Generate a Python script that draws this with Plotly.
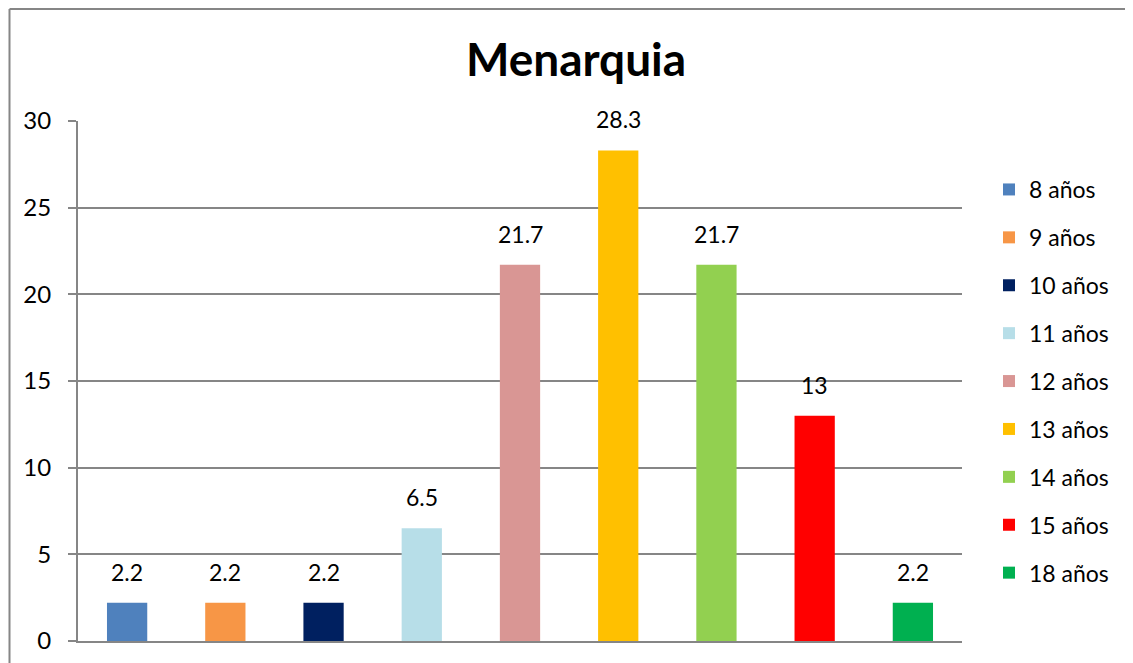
import plotly.graph_objects as go

categories = ["8 años", "9 años", "10 años", "11 años", "12 años", "13 años", "14 años", "15 años", "18 años"]
values = [2.2, 2.2, 2.2, 6.5, 21.7, 28.3, 21.7, 13, 2.2]
labels = ["2.2", "2.2", "2.2", "6.5", "21.7", "28.3", "21.7", "13", "2.2"]
colors = ["#4F81BD", "#F79646", "#002060", "#B7DEE8", "#D99694", "#FFC000", "#92D050", "#FF0000", "#00B050"]
y_ticks = [0, 5, 10, 15, 20, 25, 30]

FONT = "Lato, Carlito, Calibri, sans-serif"

# page body has an 8px margin; figure coordinates = screen coordinates - 8
OFF = 8
W, H = 1133 - OFF, 663 - OFF
PL, PR, PT, PB = 78 - OFF, 962 - OFF, 121 - OFF, 641 - OFF
L, R, T, B = PL, W - PR, PT, H - PB
pw, ph = PR - PL, PB - PT

def sx(px):
    return (px - OFF - L) / pw

def sy(py):
    return (PB - (py - OFF)) / ph

fig = go.Figure()
for cat, val, col in zip(categories, values, colors):
    fig.add_trace(go.Bar(
        x=[cat], y=[val], name=cat, marker=dict(color=col, line=dict(width=0)),
        width=0.41, legendgroup=cat, hoverinfo="x+y",
    ))

for cat, val, lab in zip(categories, values, labels):
    fig.add_annotation(x=cat, y=val, text=lab, showarrow=False, yanchor="bottom",
                       yshift=15, font=dict(size=23, color="black", family=FONT))

# chart frame (only top and left edges fall inside the visible window)
fig.add_shape(type="line", xref="paper", yref="paper",
              x0=sx(9.5), x1=sx(1160), y0=sy(9), y1=sy(9),
              line=dict(color="#868686", width=2), layer="below")
fig.add_shape(type="line", xref="paper", yref="paper",
              x0=sx(9.5), x1=sx(9.5), y0=sy(9), y1=sy(690),
              line=dict(color="#868686", width=2), layer="below")

fig.update_layout(
    width=W, height=H,
    margin=dict(l=L, r=R, t=T, b=B, autoexpand=False),
    paper_bgcolor="white", plot_bgcolor="white",
    barmode="overlay",
    title=dict(text="<b>Menarquia</b>", x=sx(576), xref="paper", xanchor="center",
               y=1 - (60 - OFF) / H, yanchor="middle",
               font=dict(size=46, color="black", family=FONT)),
    font=dict(family=FONT, color="black", size=23),
    showlegend=True,
    legend=dict(x=sx(989), xanchor="left", y=sy(168), yanchor="top",
                font=dict(size=23, color="black", family=FONT),
                tracegroupgap=15, traceorder="grouped", bgcolor="rgba(0,0,0,0)"),
    xaxis=dict(categoryorder="array", categoryarray=categories, showticklabels=False,
               showgrid=False, showline=True, linecolor="#868686", linewidth=2,
               ticks="", zeroline=False, range=[-0.5, 8.5]),
    yaxis=dict(range=[0, 30], tickvals=y_ticks, showgrid=True, gridcolor="#868686",
               gridwidth=1.5, showline=True, linecolor="#868686", linewidth=2,
               ticks="outside", ticklen=8, tickcolor="#868686", tickwidth=1.5,
               ticklabelstandoff=12,
               tickfont=dict(size=24, color="black", family=FONT), zeroline=False),
)

fig.write_html("out.html")
